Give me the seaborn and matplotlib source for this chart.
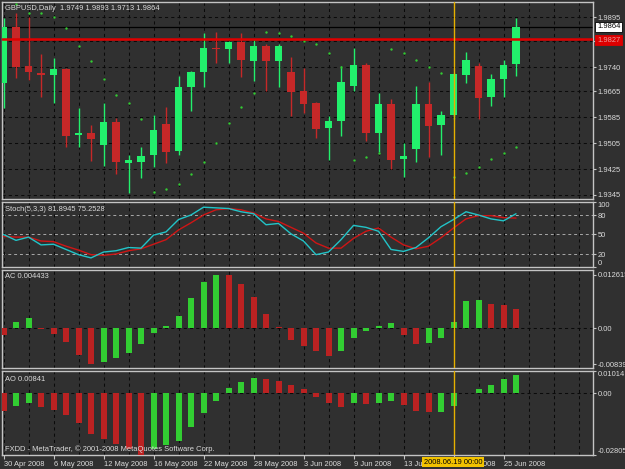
import numpy as np
import seaborn as sns
import matplotlib.pyplot as plt

# GBPUSD daily, 30 Apr 2008 - 26 Jun 2008
dates = ['30 Apr 2008', '6 May 2008', '12 May 2008', '16 May 2008', '22 May 2008',
         '28 May 2008', '3 Jun 2008', '9 Jun 2008', '13 Jun 2008', '19 Jun 2008', '25 Jun 2008']

opens = [1.9691, 1.9864, 1.9744, 1.9722, 1.9716, 1.9734, 1.9530, 1.9536, 1.9499, 1.9571,
         1.9444, 1.9447, 1.9469, 1.9564, 1.9481, 1.9679, 1.9725, 1.9799, 1.9796, 1.9818,
         1.9759, 1.9805, 1.9759, 1.9725, 1.9666, 1.9629, 1.9552, 1.9574, 1.9682, 1.9747,
         1.9537, 1.9626, 1.9456, 1.9487, 1.9626, 1.9561, 1.9592, 1.9716, 1.9744, 1.9648,
         1.9703, 1.9749]
highs = [1.9892, 1.9907, 1.9895, 1.9781, 1.9768, 1.9737, 1.9614, 1.9561, 1.9629, 1.9583,
         1.9469, 1.9493, 1.9592, 1.9617, 1.9713, 1.9727, 1.9846, 1.9849, 1.9821, 1.9846,
         1.9824, 1.9812, 1.9812, 1.9771, 1.9737, 1.9632, 1.9589, 1.9744, 1.9799, 1.9753,
         1.9660, 1.9642, 1.9506, 1.9682, 1.9694, 1.9605, 1.9722, 1.9787, 1.9753, 1.9719,
         1.9762, 1.9893]
lows = [1.9614, 1.9707, 1.9700, 1.9648, 1.9629, 1.9493, 1.9493, 1.9450, 1.9435, 1.9410,
        1.9351, 1.9398, 1.9432, 1.9444, 1.9469, 1.9605, 1.9679, 1.9753, 1.9753, 1.9710,
        1.9697, 1.9666, 1.9679, 1.9589, 1.9598, 1.9521, 1.9453, 1.9527, 1.9666, 1.9512,
        1.9478, 1.9425, 1.9401, 1.9447, 1.9462, 1.9469, 1.9580, 1.9691, 1.9580, 1.9620,
        1.9648, 1.9713]
closes = [1.9864, 1.9740, 1.9725, 1.9716, 1.9734, 1.9527, 1.9536, 1.9518, 1.9571, 1.9447,
          1.9453, 1.9466, 1.9546, 1.9478, 1.9679, 1.9725, 1.9799, 1.9796, 1.9818, 1.9762,
          1.9805, 1.9759, 1.9805, 1.9663, 1.9626, 1.9549, 1.9574, 1.9694, 1.9747, 1.9537,
          1.9626, 1.9453, 1.9466, 1.9626, 1.9558, 1.9592, 1.9719, 1.9762, 1.9645, 1.9703,
          1.9747, 1.9864]
sar = [np.nan, 1.9935, 1.9907, 1.9907, 1.9895, 1.9861, 1.9805, 1.9759, 1.9703, 1.9654,
       1.9629, 1.9580, 1.9354, 1.9364, 1.9379, 1.9410, 1.9447, 1.9506, 1.9567, 1.9617,
       1.9660, 1.9849, 1.9846, 1.9836, 1.9821, 1.9812, 1.9784, 1.9740, 1.9453, 1.9462,
       1.9475, 1.9796, 1.9784, 1.9762, 1.9740, 1.9722, 1.9401, 1.9413, 1.9431, 1.9456,
       1.9475, 1.9493]

stoch_main = [50, 41, 46, 34, 35, 27, 19, 14, 23, 25, 30, 29, 49, 54, 73, 80, 92, 91, 90, 85,
              82, 65, 67, 51, 40, 19, 23, 42, 64, 61, 55, 27, 24, 30, 45, 62, 73, 85, 80, 74,
              71, 81.89]
stoch_signal = [47, 46, 46, 40, 39, 32, 26, 19, 18, 20, 25, 28, 35, 42, 57, 68, 80, 88, 90, 88,
                83, 74, 70, 61, 52, 37, 29, 29, 44, 55, 60, 46, 34, 28, 32, 45, 60, 74, 79, 79,
                76, 75.25]

ac = [-0.0015, 0.0016, 0.0024, -0.0002, -0.0013, -0.0033, -0.0062, -0.0084, -0.0079, -0.0070,
      -0.0057, -0.0037, -0.0010, 0.0006, 0.0030, 0.0070, 0.0109, 0.0126, 0.0125, 0.0103,
      0.0074, 0.0033, 0.0003, -0.0027, -0.0041, -0.0054, -0.0064, -0.0054, -0.0022, -0.0006,
      0.0006, 0.0013, -0.0015, -0.0037, -0.0035, -0.0023, 0.0015, 0.0064, 0.0066, 0.0056,
      0.0055, 0.004433]
ao = [-0.0082, -0.0059, -0.0046, -0.0064, -0.0075, -0.0098, -0.0135, -0.0185, -0.0207, -0.0230,
      -0.0252, -0.02805, -0.0255, -0.0237, -0.0215, -0.0155, -0.0090, -0.0035, 0.0023, 0.0053,
      0.0071, 0.0066, 0.0055, 0.0036, 0.0018, -0.0017, -0.0045, -0.0062, -0.0045, -0.0049,
      -0.0042, -0.0035, -0.0054, -0.0080, -0.0087, -0.0086, -0.0059, 0.0001, 0.0018, 0.0036,
      0.0063, 0.00841]

price_ticks = [1.9345, 1.9425, 1.9505, 1.9585, 1.9665, 1.9740, 1.9820, 1.9895]
price_labels = ['1.9345', '1.9425', '1.9505', '1.9585', '1.9665', '1.9740', '', '1.9895']
bid = 1.9864
red_level = 1.9827
cursor_bar = 36

BG = '#303030'
GRID = '#0a0a0a'
BORDER = '#c4c4c4'
TXT = '#dcdcdc'
C_UP = '#22f06c'
C_DN = '#c62828'
H_UP = '#32cd32'
H_DN = '#bb2222'

sns.set_style('dark', {'axes.facecolor': BG, 'figure.facecolor': BG})
plt.rcParams['font.family'] = ['Liberation Sans', 'DejaVu Sans']
plt.rcParams['font.size'] = 5.4

W, H = 625, 469
fig = plt.figure(figsize=(W / 100, H / 100), dpi=100)


def panel(top, bottom):
    return fig.add_axes([2 / W, 1 - bottom / H, 591 / W, (bottom - top) / H])


ax1 = panel(2, 199)
ax2 = panel(202, 267)
ax3 = panel(270, 368)
ax4 = panel(371, 455)
axes = [ax1, ax2, ax3, ax4]

n = len(closes)
idx = np.arange(n)
o, h, l, c = map(np.array, (opens, highs, lows, closes))
up = c >= o
cols = np.where(up, C_UP, C_DN)

# candles
ax1.vlines(idx, l, h, colors=cols, lw=1, zorder=3)
ax1.bar(idx, np.maximum(np.abs(c - o), 0.00008), bottom=np.minimum(o, c),
        width=0.62, color=cols, linewidth=0, zorder=4)
sns.scatterplot(x=idx, y=sar, color='#33cc33', s=3, linewidth=0, ax=ax1, zorder=5)
ax1.axhline(bid, color='black', lw=0.9, zorder=2)
ax1.axhline(red_level, color='#e00000', lw=1.8, zorder=6)
ax1.set_ylim(1.93326, 1.99414)
ax1.set_yticks(price_ticks)
ax1.set_yticklabels(price_labels)

# stochastic
sns.lineplot(x=idx, y=stoch_main, color='#22c4c8', lw=1, ax=ax2, zorder=4)
sns.lineplot(x=idx, y=stoch_signal, color='#d01515', lw=1, ax=ax2, zorder=3)
for lev in (20, 50, 80):
    ax2.axhline(lev, color='#a8a8a8', ls=(0, (3, 3)), lw=0.7, zorder=1)
ax2.set_ylim(0, 100)
ax2.set_yticks([0, 20, 50, 80, 100])
ax2.set_yticklabels(['0', '20', '50', '80', '100'])


def hist(ax, vals):
    v = np.array(vals)
    d = np.r_[-1, np.diff(v)]
    kind = np.where(d > 0, 'up', 'down')
    sns.barplot(x=idx, y=v, hue=kind, palette={'up': H_UP, 'down': H_DN},
                native_scale=True, dodge=False, width=0.48, saturation=1,
                errorbar=None, legend=False, linewidth=0, ax=ax, zorder=3)
    ax.axhline(0, color=GRID, ls=(0, (3, 3)), lw=0.75, zorder=2)


hist(ax3, ac)
ax3.set_ylim(-0.00927, 0.01367)
ax3.set_yticks([-0.00839, 0, 0.012615])
ax3.set_yticklabels(['-0.00839', '0.00', '0.012615'])

hist(ax4, ao)
ax4.set_ylim(-0.02805, 0.01014)
ax4.set_yticks([-0.02805, 0, 0.01014])
ax4.set_yticklabels(['-0.02805', '0.00', '0.01014'])

for ax in axes:
    ax.set_facecolor(BG)
    ax.set_xlim(-0.12, 47.16)
    ax.set_xlabel('')
    ax.set_ylabel('')
    for g in range(0, 48, 2):
        ax.axvline(g, color=GRID, ls=(0, (3, 3)), lw=0.75, zorder=1)
    ax.axvline(cursor_bar, color='#e6b000', lw=1, zorder=7)
    ax.yaxis.tick_right()
    ax.tick_params(axis='y', colors=BORDER, labelcolor=TXT, length=2, width=0.8,
                   pad=1.5, labelsize=5.4, right=True, left=False)
    ax.tick_params(axis='x', bottom=False, labelbottom=False)
    for s in ax.spines.values():
        s.set_color(BORDER)
        s.set_linewidth(1)
        s.set_visible(True)

for v in price_ticks:
    ax1.axhline(v, color=GRID, ls=(0, (3, 3)), lw=0.75, zorder=1)

lab = ax2.get_yticklabels()
lab[0].set_va('bottom')
lab[-1].set_va('top')
lab = ax4.get_yticklabels()
lab[0].set_va('bottom')
lab[-1].set_va('top')

date_pos = list(range(0, 44, 4))
ax4.set_xticks(date_pos)
ax4.set_xticklabels(dates, ha='left')
ax4.tick_params(axis='x', bottom=True, labelbottom=True, colors=BORDER, labelcolor=TXT,
                length=3, width=0.8, pad=1.5, labelsize=5.4)

# header texts
fig.text(5 / W, 1 - 8 / H, 'GBPUSD,Daily  1.9749 1.9893 1.9713 1.9864', color=TXT, va='center')
fig.text(5 / W, 1 - 209 / H, 'Stoch(5,3,3) 81.8945 75.2528', color=TXT, va='center')
fig.text(5 / W, 1 - 277 / H, 'AC 0.004433', color=TXT, va='center')
fig.text(5 / W, 1 - 379 / H, 'AO 0.00841', color=TXT, va='center')
fig.text(5 / W, 1 - 449 / H, 'FXDD - MetaTrader, \u00a9 2001-2008 MetaQuotes Software Corp.',
         color=TXT, va='center')

# price and cursor labels
fig.text(597 / W, 1 - 27 / H, f'{bid:.4f}', color='black', va='center',
         bbox=dict(boxstyle='square,pad=0.25', fc='white', ec='black', lw=0.6))
fig.text(597 / W, 1 - 40 / H, f'{red_level:.4f}', color='#e8a0a0', va='center',
         bbox=dict(boxstyle='square,pad=0.25', fc='#dd0000', ec='#dd0000', lw=0.6))
fig.text(453 / W, 1 - 462 / H, '2008.06.19 00:00', color='black', va='center', ha='center',
         bbox=dict(boxstyle='square,pad=0.2', fc='#f2c200', ec='#f2c200', lw=0))

fig.savefig('out.png', dpi=100, facecolor=BG)
